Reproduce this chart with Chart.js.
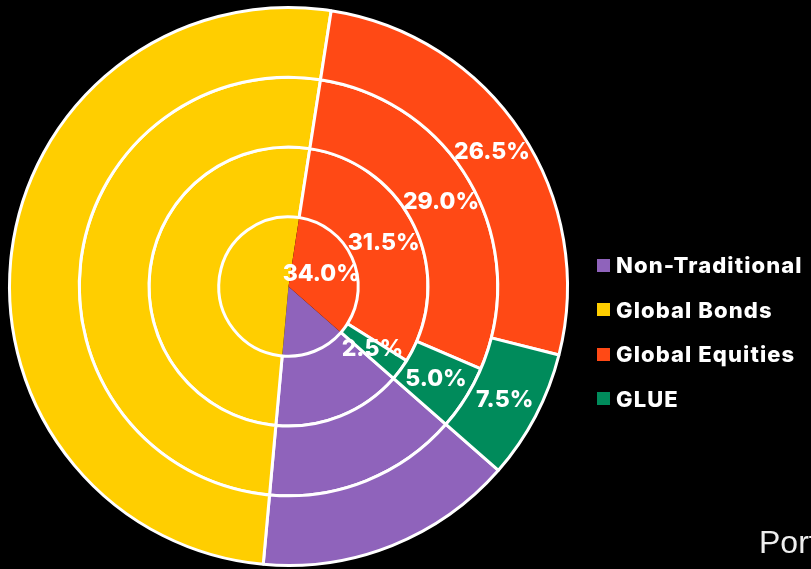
<!DOCTYPE html>
<html>
<head>
<meta charset="utf-8">
<script src="https://cdn.jsdelivr.net/npm/chart.js@4.4.1/dist/chart.umd.min.js"></script>
<style>
  html, body { margin: 0; padding: 0; background: #000; overflow: hidden; }
  #wrap { position: relative; width: 811px; height: 569px; overflow: hidden; background: #000; }
  #chart { position: absolute; left: 0; top: 0; }
  .legend-row { position: absolute; left: 597px; height: 24px; display: flex; align-items: center; white-space: nowrap; }
  .legend-box { width: 13px; height: 13px; margin-right: 6px; flex: none; }
  .legend-text { color: #fff; font: 800 22px Inter, sans-serif; letter-spacing: 1.1px; }
  #caption { position: absolute; left: 759px; top: 524px; color: #eee; font: 400 32px "Liberation Sans", sans-serif; white-space: nowrap; }
</style>
</head>
<body>
<div id="wrap">
  <canvas id="chart" width="811" height="569"></canvas>
  <div id="legend"></div>
  <div id="caption">Portfolio</div>
</div>
<script>
// Asset classes, in drawing order (clockwise from the rotation point)
const categories = ['Non-Traditional', 'Global Bonds', 'Global Equities', 'GLUE'];
const colors = ['#8f63bb', '#ffce00', '#ff4915', '#008b5b'];

// One array per ring, outermost ring first
const ringOuter = [15, 51, 26.5, 7.5];
const ringThird = [15, 51, 29.0, 5.0];
const ringSecond = [15, 51, 31.5, 2.5];
const ringInner = [15, 51, 34.0, 0];

// Only these categories get a percentage label
const labelledCategories = ['Global Equities', 'GLUE'];

// Draws the percentage text in the middle of each labelled arc
const sliceLabels = {
  id: 'sliceLabels',
  afterDatasetsDraw(chart) {
    const ctx = chart.ctx;
    ctx.save();
    ctx.fillStyle = '#fff';
    ctx.font = '800 23px Inter, sans-serif';
    ctx.textAlign = 'center';
    ctx.textBaseline = 'middle';
    chart.data.datasets.forEach((ds, di) => {
      const meta = chart.getDatasetMeta(di);
      meta.data.forEach((arc, i) => {
        const value = ds.data[i];
        if (!labelledCategories.includes(chart.data.labels[i]) || !value) return;
        const pos = arc.tooltipPosition();
        ctx.fillText(value.toFixed(1) + '%', pos.x, pos.y);
      });
    });
    ctx.restore();
  }
};

const ring = (data, border) => ({
  data: data,
  backgroundColor: colors,
  borderColor: '#fff',
  borderWidth: border,
});

new Chart(document.getElementById('chart'), {
  type: 'pie',
  data: {
    labels: categories,
    datasets: [
      ring(ringOuter, 3),
      ring(ringThird, 3),
      ring(ringSecond, 3),
      ring(ringInner, 0),
    ],
  },
  options: {
    responsive: false,
    animation: false,
    rotation: 131.2,
    radius: 279,
    layout: { padding: { left: 0, right: 234, top: 6, bottom: 2 } },
    plugins: {
      legend: { display: false },
      tooltip: { enabled: false },
    },
  },
  plugins: [sliceLabels],
});

// HTML legend built from the same categories and colours
const legend = document.getElementById('legend');
categories.forEach((name, i) => {
  const row = document.createElement('div');
  row.className = 'legend-row';
  row.style.top = (265 + i * 44.6 - 12) + 'px';
  row.innerHTML = '<div class="legend-box" style="background:' + colors[i] + '"></div>' +
    '<span class="legend-text">' + name + '</span>';
  legend.appendChild(row);
});
</script>
</body>
</html>
